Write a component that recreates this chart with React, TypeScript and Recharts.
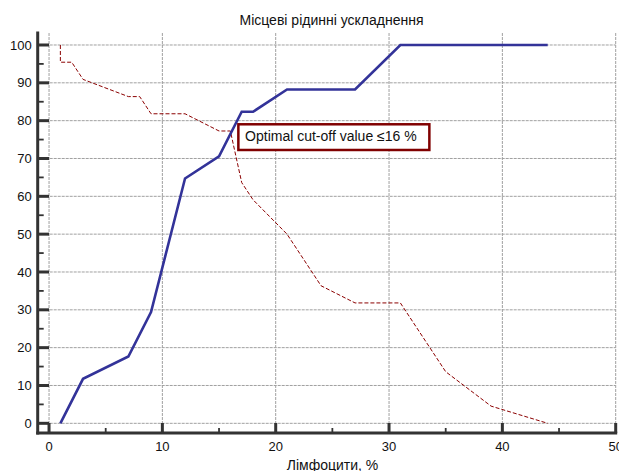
import React from 'react';
import { LineChart, Line, XAxis, YAxis, CartesianGrid, ReferenceDot, Customized } from 'recharts';

const chartTitle = 'Місцеві рідинні ускладнення';
const xAxisTitle = 'Лімфоцити, %';
const cutoffLabel = 'Optimal cut-off value ≤16 %';

const sensX = [1, 3, 7, 9, 12, 15, 17, 18, 21, 27, 31, 44];
const sensY = [0, 11.76, 17.65, 29.41, 64.71, 70.59, 82.35, 82.35, 88.24, 88.24, 100, 100];

const specX = [1, 1, 2, 3, 7, 8, 9, 12, 15, 16, 17, 18, 21, 24, 27, 31, 35, 39, 44];
const specY = [100, 95.45, 95.45, 90.91, 86.36, 86.36, 81.82, 81.82, 77.27, 77.27, 63.64, 59.09, 50, 36.36, 31.82, 31.82, 13.64, 4.55, 0];

const cutoffX = 16;
const cutoffY = 77.27;

const xTicks = [0, 5, 10, 15, 20, 25, 30, 35, 40, 45, 50];
const yTicks = [0, 5, 10, 15, 20, 25, 30, 35, 40, 45, 50, 55, 60, 65, 70, 75, 80, 85, 90, 95, 100];
const xMajor = [0, 10, 20, 30, 40, 50];
const yMajor = [0, 10, 20, 30, 40, 50, 60, 70, 80, 90, 100];
const xDomain = [-1, 50];
const yDomain = [-2.56, 103.17];

const sensData = sensX.map((x, i) => ({ x, y: sensY[i] }));
const specData = specX.map((x, i) => ({ x, y: specY[i] }));

const FONT = '"Liberation Sans", Arial, sans-serif';
const AXIS = '#333333';

const YTick = (props: any) => {
  const { x, y, payload } = props;
  const v = payload.value;
  const major = v % 10 === 0;
  return (
    <g>
      <line x1={x} x2={x + (major ? 11.3 : 6)} y1={y} y2={y} stroke={AXIS} strokeWidth={major ? 3 : 1.8} />
      {major && (
        <text x={x - 6} y={y + 4.6} textAnchor="end" fontSize={13} fontFamily={FONT} fill="#111">
          {v}
        </text>
      )}
    </g>
  );
};

const XTick = (props: any) => {
  const { x, y, payload } = props;
  const v = payload.value;
  const major = v % 10 === 0;
  return (
    <g>
      <line x1={x} x2={x} y1={y} y2={y - (major ? 10 : 5)} stroke={AXIS} strokeWidth={major ? 3 : 1.8} />
      {major && (
        <text x={x} y={y + 17.7} textAnchor="middle" fontSize={13} fontFamily={FONT} fill="#111">
          {v}
        </text>
      )}
    </g>
  );
};

const Title = () => (
  <text x={331.5} y={25} textAnchor="middle" fontSize={14} fontFamily={FONT} fill="#111">
    {chartTitle}
  </text>
);

const CutoffBox = (props: any) => {
  const { cx, cy } = props;
  return (
    <g>
      <rect x={cx + 8} y={cy - 6.7} width={191} height={25.7} fill="#fff" stroke="#800000" strokeWidth={2.5} />
      <text x={cx + 14.7} y={cy + 9.8} fontSize={14} fontFamily={FONT} fill="#111">
        {cutoffLabel}
      </text>
    </g>
  );
};

const hGen = (p: any) => {
  const s = p && p.yAxis && p.yAxis.scale;
  if (typeof s === 'function') return yMajor.map((v) => s(v));
  const o = p.offset;
  return yMajor.map((v) => o.top + o.height - ((v - yDomain[0]) / (yDomain[1] - yDomain[0])) * o.height);
};

const vGen = (p: any) => {
  const s = p && p.xAxis && p.xAxis.scale;
  if (typeof s === 'function') return xMajor.map((v) => s(v));
  const o = p.offset;
  return xMajor.map((v) => o.left + ((v - xDomain[0]) / (xDomain[1] - xDomain[0])) * o.width);
};

export default function App() {
  return (
    <div style={{ position: 'absolute', left: 0, top: 0 }}>
      <LineChart
        width={619}
        height={471}
        margin={{ top: 33, left: 7.7, right: 3.3, bottom: 0 }}
        style={{ fontFamily: FONT }}
      >
        <CartesianGrid
          stroke="#a0a0a0"
          strokeDasharray="3 1"
          strokeWidth={1}
          horizontalCoordinatesGenerator={hGen}
          verticalCoordinatesGenerator={vGen}
        />
        <XAxis
          dataKey="x"
          type="number"
          domain={xDomain}
          ticks={xTicks}
          interval={0}
          allowDataOverflow
          height={38}
          tickSize={0}
          tickMargin={0}
          tickLine={false}
          tick={<XTick />}
          axisLine={{ stroke: AXIS, strokeWidth: 3, strokeLinecap: 'square' }}
          label={(lp: any) => {
            const vb = lp.viewBox || {};
            return (
              <text x={vb.x + vb.width / 2 + 5.8} y={vb.y + 37} textAnchor="middle" fontSize={14} fontFamily={FONT} fill="#111">
                {xAxisTitle}
              </text>
            );
          }}
        />
        <YAxis
          dataKey="y"
          type="number"
          domain={yDomain}
          ticks={yTicks}
          interval={0}
          allowDataOverflow
          width={30}
          tickSize={0}
          tickMargin={0}
          tickLine={false}
          tick={<YTick />}
          axisLine={{ stroke: AXIS, strokeWidth: 3, strokeLinecap: 'square' }}
        />
        <Line
          data={specData}
          dataKey="y"
          type="linear"
          stroke="#8b0000"
          strokeWidth={1}
          strokeDasharray="4 2"
          dot={false}
          activeDot={false}
          isAnimationActive={false}
        />
        <Line
          data={sensData}
          dataKey="y"
          type="linear"
          stroke="#333399"
          strokeWidth={2.6}
          dot={false}
          activeDot={false}
          isAnimationActive={false}
        />
        <ReferenceDot x={cutoffX} y={cutoffY} r={0} shape={<CutoffBox />} />
        <Customized component={<Title />} />
      </LineChart>
    </div>
  );
}
